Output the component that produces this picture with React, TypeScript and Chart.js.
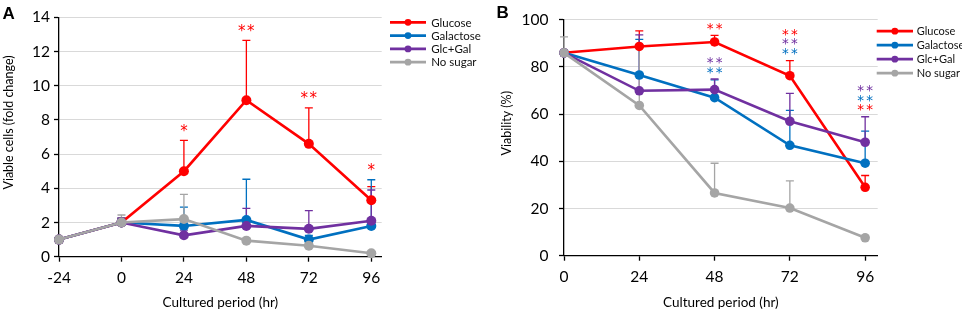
import React, { useEffect, useRef } from "react";
import { Chart, registerables } from "chart.js";

Chart.register(...registerables);

// ---------- data ----------
const seriesNames = ["Glucose", "Galactose", "Glc+Gal", "No sugar"];
const seriesColors = ["#FF0000", "#0070C0", "#7030A0", "#A5A5A5"];

// Panel A: viable cells (fold change)
const hoursA = [-24, 0, 24, 48, 72, 96];
const xTicksA = [-24, 0, 24, 48, 72, 96];
const glucoseA = [1, 2, 5.0, 9.15, 6.6, 3.3];
const galactoseA = [1, 2, 1.8, 2.15, 1.0, 1.8];
const glcGalA = [1, 2, 1.25, 1.8, 1.63, 2.1];
const noSugarA = [1, 2, 2.2, 0.94, 0.64, 0.2];
const glucoseErrA = [0, 0.25, 1.8, 3.5, 2.1, 0.8];
const galactoseErrA = [0, 0.25, 1.1, 2.38, 0.25, 2.7];
const glcGalErrA = [0, 0.25, 0.3, 1.03, 1.06, 1.8];
const noSugarErrA = [0, 0.44, 1.45, 0.15, 0.15, 0.1];

// Panel B: viability (%)
const hoursB = [0, 24, 48, 72, 96];
const xTicksB = [0, 24, 48, 72, 96];
const glucoseB = [86, 88.7, 90.6, 76.3, 29.0];
const galactoseB = [86, 76.6, 67.0, 46.8, 39.2];
const glcGalB = [86, 69.9, 70.4, 57.0, 48.1];
const noSugarB = [86, 63.7, 26.6, 20.2, 7.6];
const glucoseErrB = [0, 6.6, 2.8, 6.4, 5.0];
const galactoseErrB = [0, 15.1, 7.5, 14.8, 13.6];
const glcGalErrB = [0, 23.7, 4.5, 11.8, 10.8];
const noSugarErrB = [6.8, 25.8, 12.6, 11.5, 1.0];

// significance marks: rows listed bottom to top, "over" = series whose error tops anchor the group
const sigA = [
  { x: 24, over: seriesNames, rows: [{ series: "Glucose", stars: 1 }] },
  { x: 48, over: seriesNames, rows: [{ series: "Glucose", stars: 2 }] },
  { x: 72, over: seriesNames, rows: [{ series: "Glucose", stars: 2 }] },
  { x: 96, over: seriesNames, rows: [{ series: "Glucose", stars: 1 }] },
];
const sigB = [
  { x: 48, over: ["Glucose"], rows: [{ series: "Glucose", stars: 2 }] },
  {
    x: 48,
    over: ["Galactose", "Glc+Gal"],
    rows: [
      { series: "Galactose", stars: 2 },
      { series: "Glc+Gal", stars: 2 },
    ],
  },
  {
    x: 72,
    over: seriesNames,
    rows: [
      { series: "Galactose", stars: 2 },
      { series: "Glc+Gal", stars: 2 },
      { series: "Glucose", stars: 2 },
    ],
  },
  {
    x: 96,
    over: seriesNames,
    rows: [
      { series: "Glucose", stars: 2 },
      { series: "Galactose", stars: 2 },
      { series: "Glc+Gal", stars: 2 },
    ],
  },
];

const FONT = "Lato";

type SigGroup = { x: number; over: string[]; rows: { series: string; stars: number }[] };

type Panel = {
  letter: string;
  xs: number[];
  series: number[][];
  errs: number[][];
  xMin: number;
  xMax: number;
  xTicks: number[];
  yMax: number;
  yStep: number;
  yTitle: string;
  xTitle: string;
  sig: SigGroup[];
  look: {
    width: number;
    padding: { left: number; top: number; right: number; bottom: number };
    yAxisW: number;
    xAxisH: number;
    yTickPad: number;
    xTickPad: number;
    lineWidth: number;
    pointRadius: number;
    yTitleX: number;
    yTitleShift: number;
    letterX: number;
    letterY: number;
    sigGap: number;
    sigStep: number;
    sigSize: number;
    sigSpacing: number;
    legX: number;
    legY: number;
    legRow: number;
    legLine: number;
    legTextX: number;
    legFont: number;
  };
};

const panelA: Panel = {
  letter: "A",
  xs: hoursA,
  series: [glucoseA, galactoseA, glcGalA, noSugarA],
  errs: [glucoseErrA, galactoseErrA, glcGalErrA, noSugarErrA],
  xMin: -24,
  xMax: 100,
  xTicks: xTicksA,
  yMax: 14,
  yStep: 2,
  yTitle: "Viable cells (fold change)",
  xTitle: "Cultured period (hr)",
  sig: sigA,
  look: {
    width: 485,
    padding: { left: 0, top: 17.3, right: 103.3, bottom: 0 },
    yAxisW: 59,
    xAxisH: 54.3,
    yTickPad: 4,
    xTickPad: 6.5,
    lineWidth: 2.6,
    pointRadius: 5,
    yTitleX: 9,
    yTitleShift: -14.5,
    letterX: 2.5,
    letterY: 18.5,
    sigGap: 13,
    sigStep: 9.7,
    sigSize: 15,
    sigSpacing: 9,
    legX: 8.3,
    legY: 5,
    legRow: 13.3,
    legLine: 36,
    legTextX: 49.5,
    legFont: 11.5,
  },
};

const panelB: Panel = {
  letter: "B",
  xs: hoursB,
  series: [glucoseB, galactoseB, glcGalB, noSugarB],
  errs: [glucoseErrB, galactoseErrB, glcGalErrB, noSugarErrB],
  xMin: 0,
  xMax: 100,
  xTicks: xTicksB,
  yMax: 100,
  yStep: 20,
  yTitle: "Viability (%)",
  xTitle: "Cultured period (hr)",
  sig: sigB,
  look: {
    width: 477,
    padding: { left: 14, top: 15.3, right: 84.3, bottom: 0 },
    yAxisW: 65,
    xAxisH: 55.3,
    yTickPad: 10.5,
    xTickPad: 6.7,
    lineWidth: 2.6,
    pointRadius: 4.8,
    yTitleX: 22,
    yTitleShift: -14.5,
    letterX: 11.5,
    letterY: 17.5,
    sigGap: 10,
    sigStep: 9.7,
    sigSize: 13.5,
    sigSpacing: 9,
    legX: -1,
    legY: 11.4,
    legRow: 14,
    legLine: 36.3,
    legTextX: 39,
    legFont: 11,
  },
};

function buildChart(canvas: HTMLCanvasElement, p: Panel) {
  const L = p.look;
  const datasets = seriesNames.map((name, i) => ({
    label: name,
    data: p.xs.map((x, j) => ({ x, y: p.series[i][j] })),
    errUp: p.errs[i],
    borderColor: seriesColors[i],
    backgroundColor: seriesColors[i],
    borderWidth: L.lineWidth,
    pointRadius: L.pointRadius,
    pointHoverRadius: L.pointRadius,
    pointBorderWidth: 0,
    order: seriesNames.length - i,
    clip: false as any,
    tension: 0,
  }));

  const decor = {
    id: "decor",
    beforeDatasetsDraw(chart: any) {
      const ctx = chart.ctx;
      const ys = chart.scales.y;
      chart.data.datasets.forEach((ds: any, i: number) => {
        const meta = chart.getDatasetMeta(i);
        ctx.save();
        ctx.strokeStyle = ds.borderColor;
        ctx.lineWidth = 1.3;
        meta.data.forEach((pt: any, j: number) => {
          const e = ds.errUp[j];
          if (!e) return;
          const v = ds.data[j].y;
          const y0 = ys.getPixelForValue(v);
          const y1 = ys.getPixelForValue(v + e);
          ctx.beginPath();
          ctx.moveTo(pt.x, y0);
          ctx.lineTo(pt.x, y1);
          ctx.moveTo(pt.x - 4, y1);
          ctx.lineTo(pt.x + 4, y1);
          ctx.stroke();
        });
        ctx.restore();
      });
    },
    afterDatasetsDraw(chart: any) {
      const ctx = chart.ctx;
      const xs = chart.scales.x;
      const ys = chart.scales.y;
      const area = chart.chartArea;
      // significance stars
      ctx.save();
      ctx.font = `${L.sigSize}px "DejaVu Sans"`;
      ctx.textAlign = "center";
      ctx.textBaseline = "alphabetic";
      p.sig.forEach((g) => {
        const j = p.xs.indexOf(g.x);
        let top = Infinity;
        g.over.forEach((name) => {
          const si = seriesNames.indexOf(name);
          const v = p.series[si][j] + p.errs[si][j];
          top = Math.min(top, ys.getPixelForValue(v));
        });
        const px = xs.getPixelForValue(g.x);
        g.rows.forEach((r, k) => {
          const cy = top - L.sigGap - k * L.sigStep;
          ctx.fillStyle = seriesColors[seriesNames.indexOf(r.series)];
          for (let s = 0; s < r.stars; s++) {
            const sx = px + (s - (r.stars - 1) / 2) * L.sigSpacing;
            ctx.fillText("*", sx, cy + 0.555 * L.sigSize);
          }
        });
      });
      ctx.restore();

      // legend
      ctx.save();
      seriesNames.forEach((name, i) => {
        const y = area.top + L.legY + i * L.legRow;
        const x0 = area.right + L.legX;
        ctx.strokeStyle = seriesColors[i];
        ctx.lineWidth = 2.8;
        ctx.beginPath();
        ctx.moveTo(x0, y);
        ctx.lineTo(x0 + L.legLine, y);
        ctx.stroke();
        ctx.fillStyle = seriesColors[i];
        ctx.beginPath();
        ctx.arc(x0 + L.legLine / 2, y, 3.4, 0, Math.PI * 2);
        ctx.fill();
        ctx.fillStyle = "#111";
        ctx.font = `${L.legFont}px ${FONT}`;
        ctx.textAlign = "left";
        ctx.textBaseline = "middle";
        ctx.fillText(name, area.right + L.legTextX, y + 0.5);
      });
      ctx.restore();
    },
    afterDraw(chart: any) {
      const ctx = chart.ctx;
      const area = chart.chartArea;
      ctx.save();
      // y-axis title
      ctx.translate(L.yTitleX, (area.top + area.bottom) / 2 + L.yTitleShift);
      ctx.rotate(-Math.PI / 2);
      ctx.fillStyle = "#000";
      ctx.font = `12.5px ${FONT}`;
      ctx.textAlign = "center";
      ctx.textBaseline = "middle";
      ctx.fillText(p.yTitle, 0, 0);
      ctx.restore();
      // panel letter
      ctx.save();
      ctx.fillStyle = "#000";
      ctx.font = `bold 17px "Liberation Sans"`;
      ctx.textAlign = "left";
      ctx.textBaseline = "alphabetic";
      ctx.fillText(p.letter, L.letterX, L.letterY);
      ctx.restore();
    },
  };

  return new Chart(canvas, {
    type: "line",
    data: { datasets: datasets as any },
    options: {
      responsive: false,
      animation: false,
      events: [],
      devicePixelRatio: 1,
      layout: { padding: L.padding },
      plugins: { legend: { display: false }, tooltip: { enabled: false } },
      scales: {
        x: {
          type: "linear",
          min: p.xMin,
          max: p.xMax,
          afterBuildTicks: (s: any) => {
            s.ticks = p.xTicks.map((v) => ({ value: v }));
          },
          afterFit: (s: any) => {
            s.height = L.xAxisH;
          },
          grid: {
            drawOnChartArea: false,
            drawTicks: true,
            tickLength: 5,
            tickColor: "#000",
            tickWidth: 1.3,
          },
          border: { display: true, color: "#000", width: 1.3 },
          ticks: {
            color: "#000",
            font: { family: FONT, size: 15.5 },
            padding: L.xTickPad,
            maxRotation: 0,
            autoSkip: false,
          },
          title: {
            display: true,
            text: p.xTitle,
            color: "#000",
            font: { family: FONT, size: 13.5 },
            padding: { top: 0, bottom: 0.5 },
          },
        },
        y: {
          min: 0,
          max: p.yMax,
          afterFit: (s: any) => {
            s.width = L.yAxisW;
          },
          ticks: {
            stepSize: p.yStep,
            color: "#000",
            font: { family: FONT, size: 15.5 },
            padding: L.yTickPad,
          },
          grid: {
            color: "#D9D9D9",
            lineWidth: 1,
            drawTicks: true,
            tickLength: 5,
            tickColor: "#000",
            tickWidth: 1.3,
          },
          border: { display: true, color: "#000", width: 1.3 },
          title: { display: false },
        },
      },
    },
    plugins: [decor as any],
  });
}

function PanelChart({ panel, left }: { panel: Panel; left: number }) {
  const ref = useRef<HTMLCanvasElement | null>(null);
  useEffect(() => {
    if (!ref.current) return;
    const chart = buildChart(ref.current, panel);
    return () => chart.destroy();
  }, [panel]);
  return (
    <canvas
      ref={ref}
      width={panel.look.width}
      height={311}
      style={{ position: "absolute", left, top: 0, width: panel.look.width, height: 311 }}
    />
  );
}

export default function App() {
  return (
    <div
      style={{
        position: "absolute",
        left: 0,
        top: 0,
        width: 962,
        height: 311,
        background: "#fff",
        overflow: "hidden",
      }}
    >
      <PanelChart panel={panelA} left={0} />
      <PanelChart panel={panelB} left={485} />
    </div>
  );
}
